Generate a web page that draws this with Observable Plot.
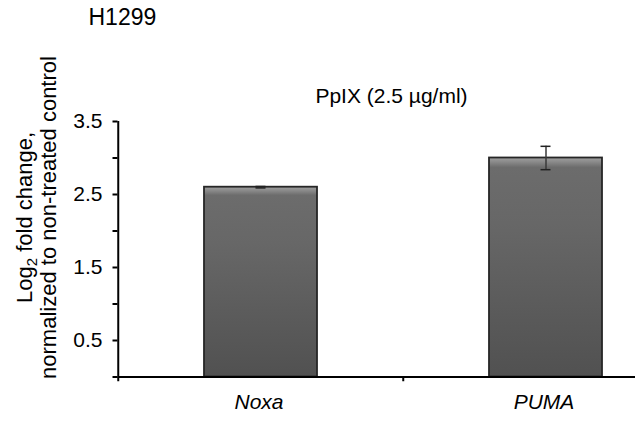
<!DOCTYPE html>
<html>
<head>
<meta charset="utf-8">
<script src="https://cdn.jsdelivr.net/npm/d3@7"></script>
<script src="https://cdn.jsdelivr.net/npm/@observablehq/plot@0.6"></script>
<style>
  html, body { margin: 0; padding: 0; background: #fff; }
  #chart svg { display: block; }
</style>
</head>
<body>
<div id="chart"></div>
<script>
// ---- data ----
const genes = ["Noxa", "PUMA"];
const values = [2.60, 3.00];
const errors = [0.01, 0.16];
const yTicks = [0, 0.5, 1, 1.5, 2, 2.5, 3, 3.5];
const yLabeled = [0.5, 1.5, 2.5, 3.5];
const cellLine = "H1299";
const treatment = "PpIX (2.5 µg/ml)";
const yLabel = "Log2 fold change,\nnormalized to non-treated control";

const data = genes.map((g, i) => ({gene: g, value: values[i], err: errors[i]}));

const FONT = "'Liberation Sans', Arial, Helvetica, sans-serif";
const bandW = 285.5;

const plot = Plot.plot({
  width: 635,
  height: 424,
  marginLeft: 117.5,
  marginRight: 0,
  marginTop: 121,
  marginBottom: 47.5,
  style: {fontFamily: FONT, fontSize: "21px", color: "#000", background: "#fff", overflow: "hidden"},
  x: {type: "band", domain: genes, range: [117.5, 117.5 + 2 * bandW], padding: 0, axis: null},
  y: {domain: [0, 3.5], range: [376.5, 121], axis: null},
  marks: [
    Plot.barY(data, {x: "gene", y: "value", fill: "url(#barGrad)", stroke: "#262626", strokeWidth: 1.8, insetLeft: 86, insetRight: 86}),
    // error bars
    Plot.ruleX(data, {x: "gene", y1: d => d.value - d.err, y2: d => d.value + d.err, stroke: "#3a3a3a", strokeWidth: 1.5}),
    Plot.tickY(data, {x: "gene", y: d => d.value + d.err, stroke: "#222", strokeWidth: 1.5, insetLeft: 137.5, insetRight: 137.5}),
    Plot.tickY(data, {x: "gene", y: d => d.value - d.err, stroke: "#222", strokeWidth: 1.5, insetLeft: 137.5, insetRight: 137.5}),
    // axes lines
    Plot.ruleY([0], {stroke: "#000", strokeWidth: 2}),
    Plot.ruleX([genes[0]], {x: d => d, y1: 0, y2: 3.5, dx: -bandW / 2, stroke: "#000", strokeWidth: 2}),
    // x-axis ticks at category boundaries
    Plot.ruleX(genes, {x: d => d, y1: 0, y2: -0.065, dx: -bandW / 2, stroke: "#000", strokeWidth: 2}),
    // y axis ticks and labels
    Plot.axisY({ticks: yTicks, tickSize: 5, tickPadding: 10.5, strokeWidth: 2, stroke: "#000",
      tickFormat: d => yLabeled.includes(d) ? d.toFixed(1) : "", label: null, fontSize: 21, fill: "#000"}),
    // x category labels
    Plot.text(genes, {x: d => d, frameAnchor: "bottom", dy: 31.5, dx: -2, text: d => d, fontStyle: "italic", fontSize: 21, fill: "#000"}),
    // treatment label
    Plot.text([treatment], {frameAnchor: "top-left", dx: 391 - 117.5, dy: 96 - 121, textAnchor: "middle", lineAnchor: "middle", text: d => d, fontSize: 21, fill: "#000"}),
    // cell line title
    Plot.text([cellLine], {frameAnchor: "top-left", dx: 88 - 117.5, dy: 17 - 121, textAnchor: "start", lineAnchor: "middle", text: d => d, fontSize: 23, fill: "#000"}),
    // y label
    Plot.text([yLabel], {frameAnchor: "left", dx: 36 - 117.5, dy: 217 - 248.75, rotate: -90, textAnchor: "middle", lineAnchor: "middle", lineHeight: 1.1, text: d => d, fontSize: 22, fill: "#000"})
  ]
});

// gradient definition for bars
const defs = d3.select(plot).insert("defs", ":first-child");
const grad = defs.append("linearGradient").attr("id", "barGrad").attr("x1", 0).attr("y1", 0).attr("x2", 0).attr("y2", 1);
[[0, "#a0a0a0"], [0.02, "#8a8a8a"], [0.045, "#6c6c6c"], [0.3, "#676767"], [1, "#515151"]].forEach(([o, c]) =>
  grad.append("stop").attr("offset", o).attr("stop-color", c));

// subscript 2 in "Log2"
d3.select(plot).selectAll("text").each(function() {
  const t = d3.select(this);
  t.selectAll("tspan").each(function() {
    const s = d3.select(this);
    const txt = s.text();
    if (txt.startsWith("Log2")) {
      s.text("");
      s.append("tspan").text("Log");
      s.append("tspan").attr("font-size", 15).attr("dy", 5).text("2");
      s.append("tspan").attr("dy", -5).text(txt.slice(4));
    }
  });
});

document.getElementById("chart").appendChild(plot);
</script>
</body>
</html>
